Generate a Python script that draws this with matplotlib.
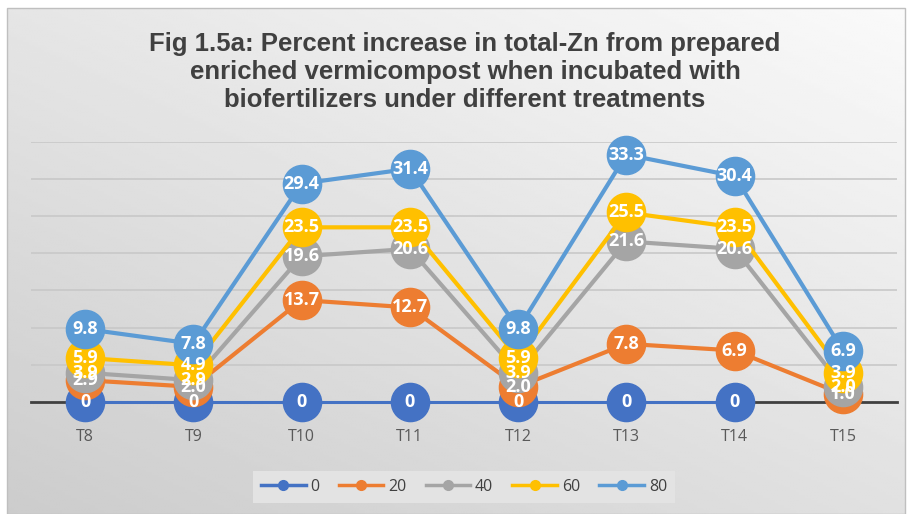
import numpy as np
import matplotlib
matplotlib.use("Agg")
import matplotlib.pyplot as plt
from matplotlib.lines import Line2D
from matplotlib.patches import Rectangle

treatments = ["T8", "T9", "T10", "T11", "T12", "T13", "T14", "T15"]
series_names = ["0", "20", "40", "60", "80"]
vals_0 = [0, 0, 0, 0, 0, 0, 0, np.nan]  # no point shown for T15
vals_20 = [2.9, 2.0, 13.7, 12.7, 2.0, 7.8, 6.9, 1.0]
vals_40 = [3.9, 2.9, 19.6, 20.6, 3.9, 21.6, 20.6, 2.0]
vals_60 = [5.9, 4.9, 23.5, 23.5, 5.9, 25.5, 23.5, 3.9]
vals_80 = [9.8, 7.8, 29.4, 31.4, 9.8, 33.3, 30.4, 6.9]
all_vals = [vals_0, vals_20, vals_40, vals_60, vals_80]
label_fmt = ["{:.0f}", "{:.1f}", "{:.1f}", "{:.1f}", "{:.1f}"]
colors = ["#4472C4", "#ED7D31", "#A5A5A5", "#FFC000", "#5B9BD5"]

W, H = 908, 514
fig = plt.figure(figsize=(W / 100, H / 100), dpi=100)
fig.patch.set_facecolor("white")

# gradient background of the chart area
bg = fig.add_axes([0, 0, 1, 1], zorder=-5)
bg.set_xlim(0, W)
bg.set_ylim(H, 0)
bg.axis("off")
gx, gy = np.meshgrid(np.linspace(0, 1, 300), np.linspace(0, 1, 200))
shade = 0.80 + 0.18 * np.clip((gx * 0.9 + (1 - gy) * 1.1) / 2.0, 0, 1)
bg.imshow(shade, cmap="gray", vmin=0, vmax=1, extent=[7, 905, 514, 8],
          aspect="auto", interpolation="bilinear")
bg.add_patch(Rectangle((7, 8), 898, 506, fill=False, edgecolor="#bfbfbf", lw=1))

ax = fig.add_axes([31 / W, (H - 401.7) / H, 866 / W, 259.7 / H])
ax.set_facecolor("none")
x = np.arange(len(treatments))
ax.set_xlim(-0.5, len(treatments) - 0.5)
ax.set_ylim(0, 35)
ax.set_yticks(np.arange(5, 36, 5))
ax.yaxis.grid(True, color="#c8c8c8", lw=1.2)
ax.set_axisbelow(True)
ax.tick_params(axis="y", left=False, labelleft=False)
ax.tick_params(axis="x", bottom=False, labelsize=11.5, labelcolor="#595959", pad=16)
ax.set_xticks(x)
ax.set_xticklabels(treatments, fontfamily="Open Sans")
for s in ["top", "right", "left"]:
    ax.spines[s].set_visible(False)
ax.spines["bottom"].set_color("#404040")
ax.spines["bottom"].set_linewidth(2)

for i, vals in enumerate(all_vals):
    ax.plot(x, vals, color=colors[i], lw=3 if i else 2.2, marker="o", markersize=27.5,
            clip_on=False, zorder=3 + i)
for i, vals in enumerate(all_vals):
    for xi, v in zip(x, vals):
        if np.isnan(v):
            continue
        ax.text(xi, v, label_fmt[i].format(v), color="white", fontsize=13,
                fontweight="bold", fontfamily="Open Sans", ha="center", va="center",
                zorder=20)

fig.text(465 / W, 1 - 72 / H,
         "Fig 1.5a: Percent increase in total-Zn from prepared\n"
         "enriched vermicompost when incubated with\n"
         "biofertilizers under different treatments",
         ha="center", va="center", fontsize=18.5, fontweight="bold",
         color="#404040", fontfamily="Liberation Sans", linespacing=1.22)

handles = [Line2D([0], [0], color=c, lw=2.5, marker="o", markersize=7) for c in colors]
leg = fig.legend(handles, series_names, loc="center", bbox_to_anchor=(464 / W, 1 - 487 / H),
                 ncol=5, frameon=True, handlelength=2.8,
                 columnspacing=1.2, handletextpad=0.3, borderpad=0.5,
                 prop={"family": "Open Sans", "size": 11.5})
leg.get_frame().set_facecolor("#e3e3e3")
leg.get_frame().set_edgecolor("none")
leg.get_frame().set_alpha(1)
leg.get_frame().set_boxstyle("square", pad=0)
for t in leg.get_texts():
    t.set_color("#404040")

fig.savefig("out.png", dpi=100)
